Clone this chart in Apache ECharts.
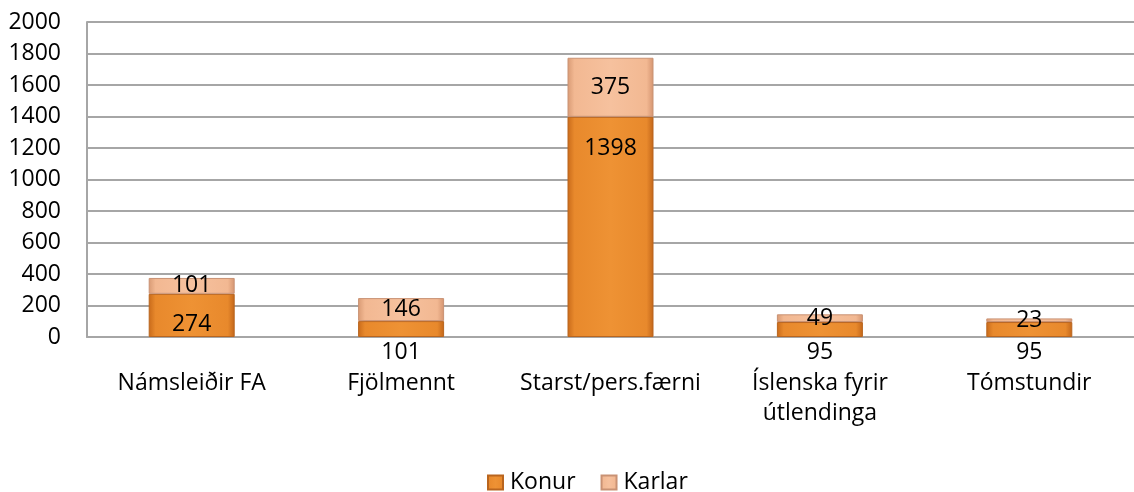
<!DOCTYPE html>
<html><head><meta charset="utf-8">
<script src="https://cdn.jsdelivr.net/npm/echarts@6/dist/echarts.min.js"></script>
<style>html,body{margin:0;padding:0;background:#fff}#c{width:1134px;height:492px}</style>
</head><body><div id="c"></div>
<script>
const categories = ['Námsleiðir FA', 'Fjölmennt', 'Starst/pers.færni', 'Íslenska fyrir\nútlendinga', 'Tómstundir'];
const konur = [274, 101, 1398, 95, 95];
const karlar = [101, 146, 375, 49, 23];
const yTicks = [0, 200, 400, 600, 800, 1000, 1200, 1400, 1600, 1800, 2000];

const FONT = 'Open Sans';
const FS = 23;
const chart = echarts.init(document.getElementById('c'));

function konurLabel(v, i) {
  if (v < 200) return { position: 'bottom', distance: 4 };
  if (v < 500) return { position: 'insideBottom', distance: 1 };
  return { position: 'insideTop', distance: 20 };
}

const konurColor = { type: 'linear', x: 0, y: 0, x2: 1, y2: 0, colorStops: [
  { offset: 0, color: '#C86A1A' }, { offset: 0.08, color: '#E8892C' },
  { offset: 0.5, color: '#EE9234' }, { offset: 0.92, color: '#E8892C' }, { offset: 1, color: '#C2661A' }] };
const karlarColor = { type: 'linear', x: 0, y: 0, x2: 1, y2: 0, colorStops: [
  { offset: 0, color: '#D89A74' }, { offset: 0.08, color: '#F2B892' },
  { offset: 0.5, color: '#F6C19E' }, { offset: 0.92, color: '#F2B892' }, { offset: 1, color: '#D49470' }] };

chart.setOption({
  animation: false,
  textStyle: { fontFamily: FONT },
  grid: { left: 87, top: 22, width: 1055, bottom: 155, containLabel: false },
  legend: {
    top: 466, left: 482, itemWidth: 15, itemHeight: 14, itemGap: 25, icon: 'rect',
    textStyle: { fontFamily: FONT, fontSize: FS, color: '#000', padding: [0, 0, 0, 2] },
    data: ['Konur', 'Karlar']
  },
  xAxis: {
    type: 'category', data: categories,
    axisLine: { show: true, lineStyle: { color: '#A6A6A6', width: 2 } },
    axisTick: { show: false },
    axisLabel: { margin: 31, fontSize: FS, color: '#000', fontFamily: FONT, lineHeight: 30, interval: 0 }
  },
  yAxis: {
    type: 'value', min: yTicks[0], max: yTicks[yTicks.length - 1], interval: 200,
    axisLine: { show: true, lineStyle: { color: '#A6A6A6', width: 2 } },
    axisTick: { show: false },
    splitLine: { lineStyle: { color: '#A6A6A6', width: 2 } },
    axisLabel: { margin: 26, fontSize: FS, color: '#000', fontFamily: FONT, formatter: v => String(v) }
  },
  series: [
    {
      name: 'Konur', type: 'bar', stack: 's', barWidth: 86,
      itemStyle: { color: konurColor, borderColor: '#B9651E', borderWidth: 1 },
      data: konur.map((v, i) => ({ value: v, label: konurLabel(v, i) })),
      label: { show: true, fontSize: FS, color: '#000', fontFamily: FONT }
    },
    {
      name: 'Karlar', type: 'bar', stack: 's', barWidth: 86,
      itemStyle: { color: karlarColor, borderColor: '#C99274', borderWidth: 1 },
      data: karlar,
      label: { show: true, position: 'inside', fontSize: FS, color: '#000', fontFamily: FONT }
    }
  ]
});
</script></body></html>
